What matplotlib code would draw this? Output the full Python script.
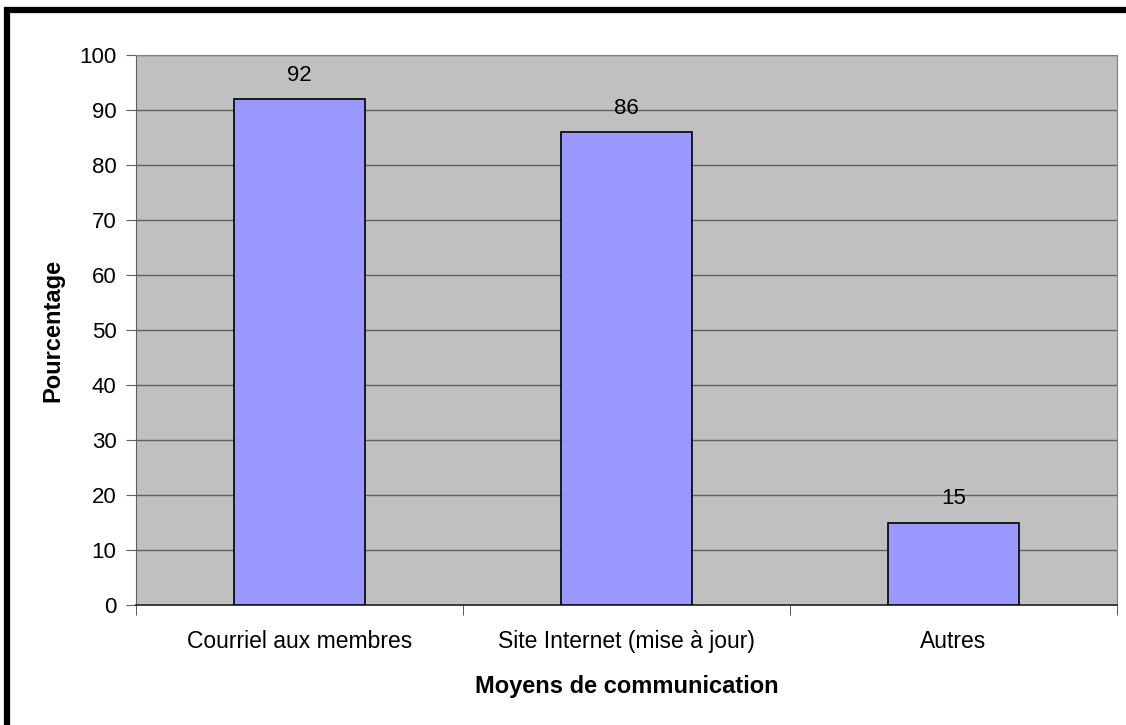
import matplotlib
matplotlib.use("Agg")
import matplotlib.pyplot as plt
from matplotlib.patches import Rectangle
import numpy as np

# data
categories = ["Courriel aux membres", "Site Internet (mise à jour)", "Autres"]
values = [92, 86, 15]
yticks = list(range(0, 101, 10))

plt.rcParams["font.family"] = ["Liberation Sans", "DejaVu Sans"]

fig = plt.figure(figsize=(11.26, 7.25), dpi=100)
ax = fig.add_axes([136 / 1126, 120 / 725, 981 / 1126, 550 / 725])

# frame around the chart (only left and top visible in the picture)
fig.patches.append(Rectangle((7 / 1126, -0.1), 1.2, (725 - 7) / 725 + 0.1 - 3 / 725,
                             transform=fig.transFigure, fill=False,
                             edgecolor="black", linewidth=4.5))

ax.set_facecolor("#c0c0c0")
x = np.arange(len(categories))
ax.bar(x, values, width=0.4, color="#9999ff", edgecolor="black", linewidth=1.2, zorder=3)

for xi, v in zip(x, values):
    ax.text(xi, v + 2.4, str(v), ha="center", va="bottom", fontsize=16, zorder=4)

ax.set_xlim(-0.5, len(categories) - 0.5)
ax.set_ylim(0, 100)
ax.set_yticks(yticks)
ax.yaxis.grid(True, color="#606060", linewidth=1, zorder=1)
ax.set_axisbelow(True)

ax.set_xticks(x)
ax.set_xticklabels(categories, fontsize=16.5)
ax.set_xticks(np.arange(-0.5, len(categories)), minor=True)
ax.tick_params(axis="x", which="major", length=0, pad=18)
ax.tick_params(axis="x", which="minor", length=7, color="#404040")
ax.tick_params(axis="y", labelsize=16, length=7, color="#606060", pad=7)

for s in ["top", "right"]:
    ax.spines[s].set_color("#808080")
ax.spines["left"].set_color("#606060")
ax.spines["bottom"].set_color("#303030")
ax.spines["bottom"].set_linewidth(1.3)

ax.set_xlabel("Moyens de communication", fontsize=17, fontweight="bold", labelpad=16)
ax.set_ylabel("Pourcentage", fontsize=17, fontweight="bold", labelpad=11)

fig.savefig("out.png", dpi=100)
